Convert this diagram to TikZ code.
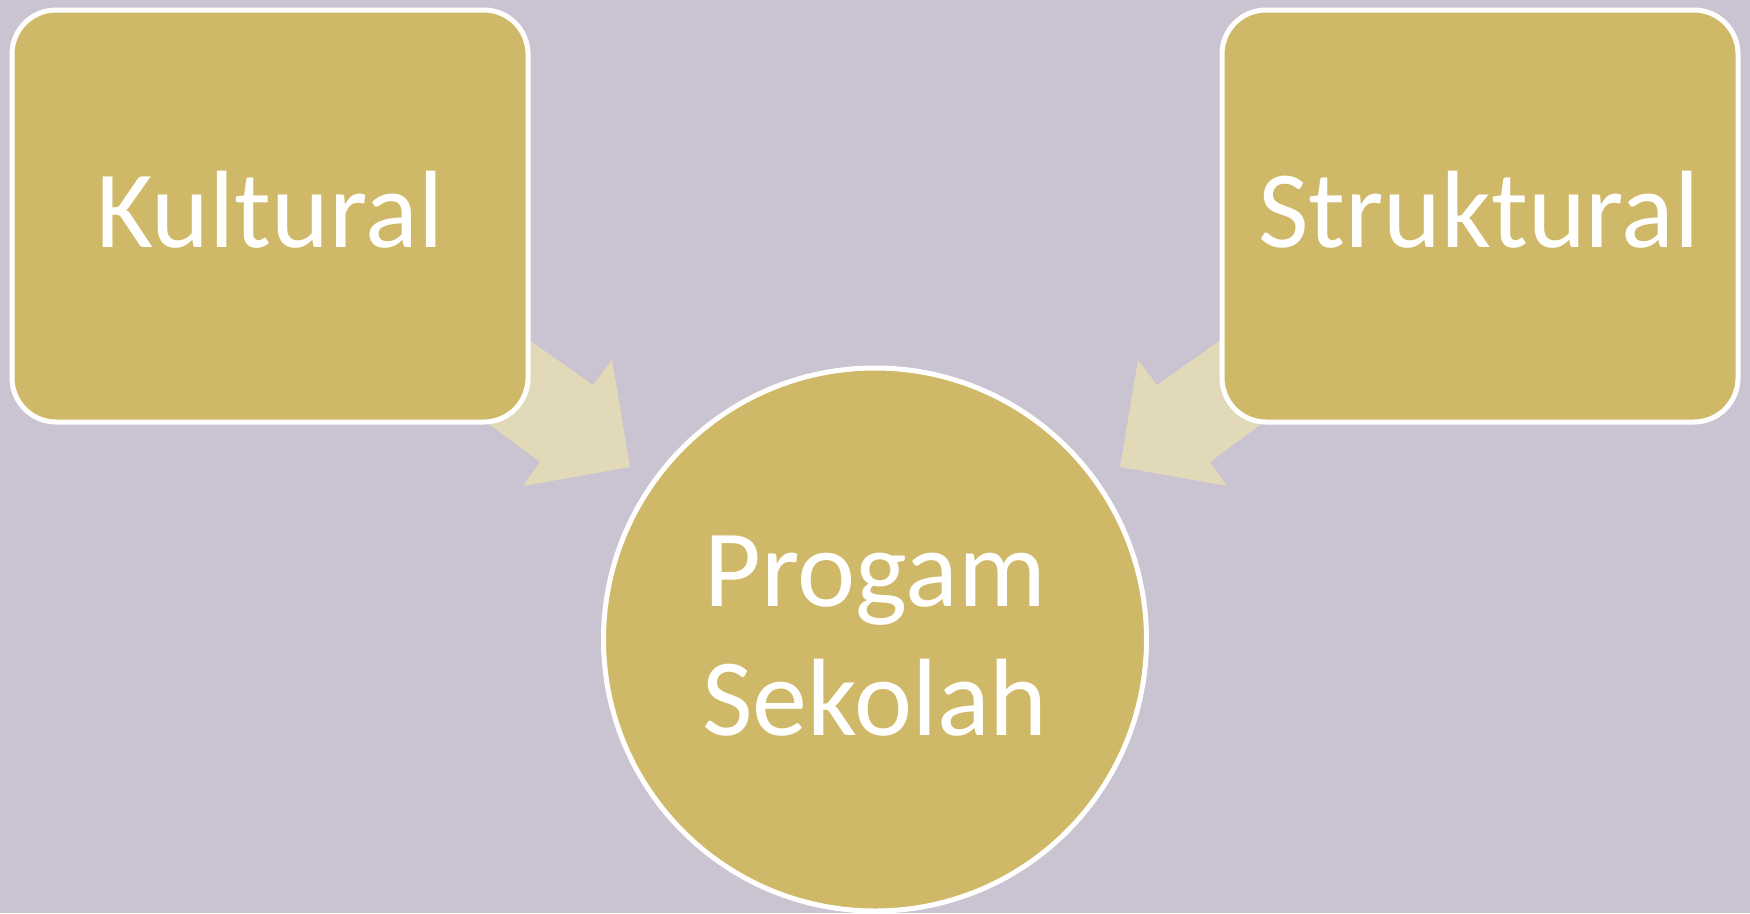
\documentclass[tikz,border=0pt]{standalone}
\usepackage{fontspec}
\setmainfont{Carlito}
\definecolor{bgcol}{RGB}{201,195,210}
\definecolor{boxcol}{RGB}{207,185,104}
\definecolor{arrowcol}{RGB}{226,217,185}
\tikzset{
  card/.style={fill=boxcol, draw=white, line width=5pt, rounded corners=44pt},
  hub/.style={circle, fill=boxcol, draw=white, line width=5pt, minimum size=543pt, inner sep=0pt},
  blockarrow/.style={fill=arrowcol, draw=none},
  label/.style={text=white, font=\fontsize{110}{129}\selectfont, inner sep=0pt, anchor=base}
}
\begin{document}
\begin{tikzpicture}[x=1pt, y=-1pt]
  \useasboundingbox (0,0) rectangle (1750,913);
  \fill[bgcol] (0,0) rectangle (1750,913);

  % block arrows pointing into the central circle (tails hidden under the cards)
  \coordinate (la1) at (450,284);
  \coordinate (la2) at (593,385);
  \coordinate (la3) at (612,360);
  \coordinate (la4) at (630,467);
  \coordinate (la5) at (523,486);
  \coordinate (la6) at (540,462);
  \coordinate (la7) at (420,373);
  \path[blockarrow] (la1) -- (la2) -- (la3) -- (la4) -- (la5) -- (la6) -- (la7) -- cycle;

  \coordinate (ra1) at (1300,284);
  \coordinate (ra2) at (1157,385);
  \coordinate (ra3) at (1138,360);
  \coordinate (ra4) at (1120,467);
  \coordinate (ra5) at (1227,486);
  \coordinate (ra6) at (1210,462);
  \coordinate (ra7) at (1330,373);
  \path[blockarrow] (ra1) -- (ra2) -- (ra3) -- (ra4) -- (ra5) -- (ra6) -- (ra7) -- cycle;

  % the two source cards
  \draw[card] (12,10) rectangle (528,422);
  \draw[card] (1222,10) rectangle (1738,422);
  \node[label] (kultural) at (270,247) {Kultural};
  \node[label] (struktural) at (1479,247) {Struktural};

  % central circle
  \node[hub] (program) at (875,639.5) {};
  \node[label] (progam) at (875,606) {Progam};
  \node[label] (sekolah) at (875,735) {Sekolah};
\end{tikzpicture}
\end{document}
